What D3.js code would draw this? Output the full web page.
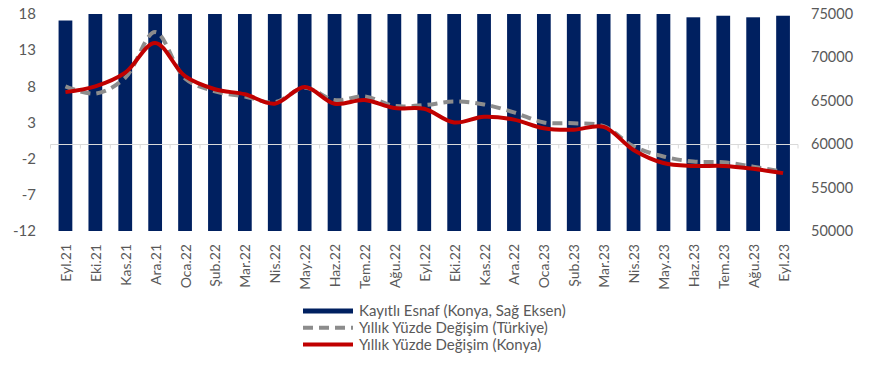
<!DOCTYPE html>
<html>
<head>
<meta charset="utf-8">
<script src="https://cdn.jsdelivr.net/npm/d3@7"></script>
<style>
  html, body { margin: 0; padding: 0; background: #fff; }
  svg text { font-family: Lato, "Open Sans", sans-serif; fill: #595959; }
</style>
</head>
<body>
<svg id="chart" width="873" height="374"></svg>
<script>
// Months (Eylül 2021 – Eylül 2023)
const months = ["Eyl.21","Eki.21","Kas.21","Ara.21","Oca.22","Şub.22","Mar.22","Nis.22","May.22",
  "Haz.22","Tem.22","Ağu.22","Eyl.22","Eki.22","Kas.22","Ara.22","Oca.23","Şub.23","Mar.23",
  "Nis.23","May.23","Haz.23","Tem.23","Ağu.23","Eyl.23"];

// Registered tradesmen in Konya (right axis)
const esnafKonya = [74250,75600,75800,75900,76000,75900,75900,75800,75800,75700,75700,75600,75500,
  75500,75400,75400,75300,75300,75200,75200,75100,74620,74800,74620,74800];

// Annual % change, Türkiye (left axis)
const degisimTurkiye = [8.0,7.0,9.2,15.5,9.1,7.3,6.6,5.8,7.8,6.1,6.6,5.3,5.4,5.9,5.5,4.4,3.0,2.9,2.5,
  -0.3,-1.7,-2.4,-2.5,-3.1,-3.8];

// Annual % change, Konya (left axis)
const degisimKonya = [7.2,8.0,9.9,14.0,9.4,7.6,6.9,5.6,7.9,5.6,6.1,5.0,4.9,3.0,3.8,3.4,2.2,2.0,2.4,
  -0.8,-2.6,-3.0,-3.0,-3.4,-4.0];

const leftTicks = [18,13,8,3,-2,-7,-12];
const rightTicks = [75000,70000,65000,60000,55000,50000];

const svg = d3.select("#chart");
const plot = { left: 50.5, right: 798, top: 14, bottom: 231 };

const x = d3.scaleBand().domain(months).range([plot.left, plot.right]).paddingInner(0.54).paddingOuter(0.27);
const yL = d3.scaleLinear().domain([-12, 18]).range([plot.bottom, plot.top]);
const yR = d3.scaleLinear().domain([50000, 75000]).range([plot.bottom, plot.top]);

svg.append("defs").append("clipPath").attr("id", "plotClip")
  .append("rect").attr("x", plot.left).attr("y", plot.top)
  .attr("width", plot.right - plot.left).attr("height", plot.bottom - plot.top);

// Bars
svg.append("g").attr("clip-path", "url(#plotClip)")
  .selectAll("rect").data(months).join("rect")
  .attr("x", d => x(d))
  .attr("width", x.bandwidth())
  .attr("y", (d, i) => yR(esnafKonya[i]))
  .attr("height", (d, i) => yR(50000) - yR(esnafKonya[i]))
  .attr("fill", "#002060");

// Horizontal axis at zero with boundary ticks
const zeroY = Math.round(yL(0)) + 0.5;
const axisG = svg.append("g");
axisG.append("line").attr("x1", plot.left).attr("x2", plot.right)
  .attr("y1", zeroY).attr("y2", zeroY).attr("stroke", "#d9d9d9").attr("stroke-width", 1.2);
const step = x.step();
const bounds = d3.range(months.length + 1).map(i => plot.left + (plot.right - plot.left - step * months.length) / 2 + i * step);
axisG.selectAll("line.tick").data(bounds).join("line").attr("class", "tick")
  .attr("x1", d => d).attr("x2", d => d).attr("y1", zeroY).attr("y2", zeroY + 4)
  .attr("stroke", "#d9d9d9").attr("stroke-width", 1);

// Lines
const line = data => d3.line()
  .x((d, i) => x(months[i]) + x.bandwidth() / 2)
  .y(d => yL(d))
  .curve(d3.curveCatmullRom.alpha(0.5))(data);

svg.append("path").attr("d", line(degisimTurkiye))
  .attr("fill", "none").attr("stroke", "#8c8c8c").attr("stroke-width", 4)
  .attr("stroke-dasharray", "10,6");
svg.append("path").attr("d", line(degisimKonya))
  .attr("fill", "none").attr("stroke", "#c00000").attr("stroke-width", 4)
  .attr("stroke-linejoin", "round");

// Left axis labels
svg.append("g").selectAll("text").data(leftTicks).join("text")
  .attr("x", 36).attr("y", d => yL(d)).attr("dy", "0.35em")
  .attr("text-anchor", "end").attr("font-size", 15).text(d => d);

// Right axis labels
svg.append("g").selectAll("text").data(rightTicks).join("text")
  .attr("x", 811).attr("y", d => yR(d)).attr("dy", "0.35em")
  .attr("text-anchor", "start").attr("font-size", 14.5).text(d => d);

// Category labels
svg.append("g").selectAll("text").data(months).join("text")
  .attr("transform", d => `translate(${x(d) + x.bandwidth() / 2 + 5.5},244) rotate(-90)`)
  .attr("text-anchor", "end").attr("font-size", 14).text(d => d);

// Legend
const legend = [
  { label: "Kayıtlı Esnaf (Konya, Sağ Eksen)", type: "bar" },
  { label: "Yıllık Yüzde Değişim (Türkiye)", type: "dash" },
  { label: "Yıllık Yüzde Değişim (Konya)", type: "line" }
];
const lg = svg.append("g").attr("transform", "translate(303,311)");
legend.forEach((it, i) => {
  const g = lg.append("g").attr("transform", `translate(0,${i * 16.7})`);
  if (it.type === "bar") {
    g.append("rect").attr("x", 0).attr("y", -2.5).attr("width", 50).attr("height", 5).attr("fill", "#002060");
  } else if (it.type === "dash") {
    g.append("line").attr("x1", 0).attr("x2", 50).attr("y1", 0).attr("y2", 0)
      .attr("stroke", "#8c8c8c").attr("stroke-width", 4).attr("stroke-dasharray", "10,6");
  } else {
    g.append("line").attr("x1", 0).attr("x2", 50).attr("y1", 0).attr("y2", 0)
      .attr("stroke", "#c00000").attr("stroke-width", 4);
  }
  g.append("text").attr("x", 56).attr("y", 0).attr("dy", "0.35em")
    .attr("font-size", 15).text(it.label);
});
</script>
</body>
</html>
